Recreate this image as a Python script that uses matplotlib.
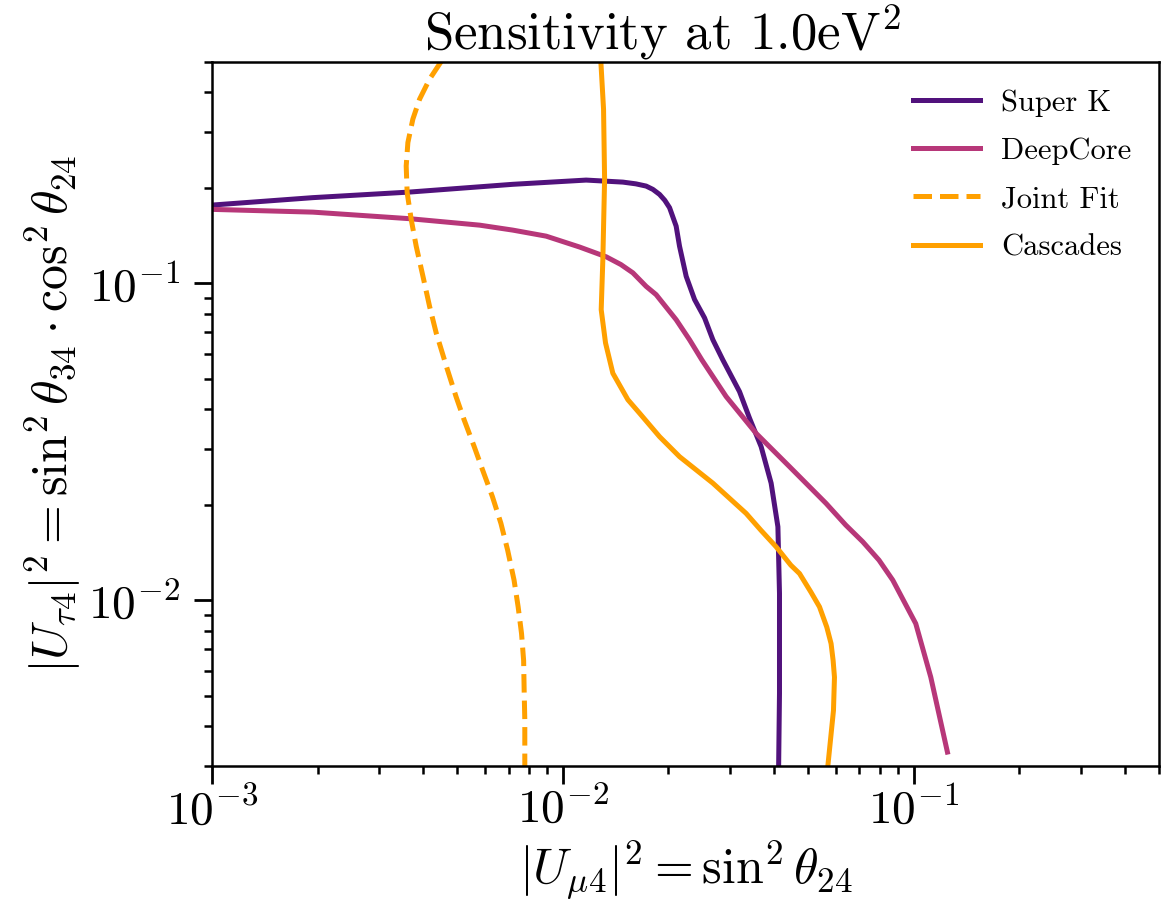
#!/usr/bin/env python3
"""Sensitivity contours at 1.0 eV^2 (|U_mu4|^2 vs |U_tau4|^2)."""

import matplotlib

matplotlib.use("Agg")
import matplotlib.pyplot as plt

# Super K
superk_x = [1.0e-3, 1.94e-3, 3.66e-3, 7.2e-3, 1.165e-2, 1.483e-2, 1.614e-2, 1.727e-2,
            1.805e-2, 1.886e-2, 1.952e-2, 2.014e-2, 2.103e-2, 2.15e-2, 2.246e-2, 2.373e-2,
            2.534e-2, 2.676e-2, 2.856e-2, 3.187e-2, 3.404e-2, 3.673e-2, 3.922e-2, 4.10e-2,
            4.143e-2, 4.143e-2, 4.12e-2]
superk_y = [0.1763, 0.1861, 0.1938, 0.205, 0.2114, 0.2083, 0.2057, 0.2024,
            0.1976, 0.1905, 0.1825, 0.173, 0.1513, 0.1308, 0.1051, 0.0888,
            0.0777, 0.0663, 0.0573, 0.0455, 0.0375, 0.0305, 0.0234, 0.01705,
            0.01052, 5.08e-3, 3.0e-3]

# DeepCore
deepcore_x = [1.0e-3, 1.94e-3, 3.66e-3, 5.79e-3, 7.2e-3, 8.96e-3, 1.116e-2, 1.329e-2,
              1.463e-2, 1.583e-2, 1.727e-2, 1.844e-2, 2.103e-2, 2.296e-2, 2.489e-2,
              2.919e-2, 3.554e-2, 4.425e-2, 5.625e-2, 6.4e-2, 7.155e-2, 7.96e-2,
              8.713e-2, 0.1013, 0.1118, 0.1247]
deepcore_y = [0.1709, 0.1675, 0.1597, 0.1524, 0.147, 0.1407, 0.130, 0.1211,
              0.1145, 0.1078, 0.0977, 0.092, 0.0767, 0.0663, 0.0573,
              0.0439, 0.0336, 0.02638, 0.0202, 0.01726, 0.01529, 0.01338,
              0.01157, 8.44e-3, 5.72e-3, 3.32e-3]

# Joint Fit
joint_x = [4.5e-3, 4.17e-3, 3.906e-3, 3.737e-3, 3.617e-3, 3.577e-3, 3.6e-3, 3.696e-3,
           3.82e-3, 3.993e-3, 4.17e-3, 4.355e-3, 4.69e-3, 4.96e-3, 5.23e-3, 5.59e-3,
           5.905e-3, 6.3e-3, 6.66e-3, 6.96e-3, 7.26e-3, 7.457e-3, 7.625e-3, 7.73e-3,
           7.757e-3, 7.79e-3, 7.79e-3, 7.79e-3]
joint_y = [0.5, 0.44, 0.3805, 0.3291, 0.2776, 0.2342, 0.193, 0.159,
           0.1308, 0.1051, 0.0845, 0.0697, 0.0533, 0.0439, 0.0371, 0.0305,
           0.02576, 0.0212, 0.01748, 0.01439, 0.01157, 9.53e-3, 7.85e-3, 6.46e-3,
           5.19e-3, 4.18e-3, 3.36e-3, 3.0e-3]

# Cascades
cascades_x = [1.283e-2, 1.306e-2, 1.315e-2, 1.30e-2, 1.286e-2, 1.323e-2, 1.388e-2, 1.532e-2,
              1.654e-2, 1.886e-2, 2.15e-2, 2.676e-2, 3.328e-2, 3.665e-2, 4.053e-2,
              4.463e-2, 4.725e-2, 5.089e-2, 5.387e-2, 5.65e-2, 5.812e-2, 5.89e-2,
              5.943e-2, 5.904e-2, 5.69e-2]
cascades_y = [0.5, 0.3537, 0.2126, 0.1188, 0.0825, 0.0648, 0.052, 0.0429,
              0.0389, 0.0328, 0.02837, 0.0234, 0.01879, 0.01664, 0.01474,
              0.0129, 0.01214, 0.01062, 9.53e-3, 8.23e-3, 7.3e-3, 6.46e-3,
              5.72e-3, 4.49e-3, 3.0e-3]

plt.rcParams["font.family"] = "serif"
plt.rcParams["font.serif"] = ["cmr10"]
plt.rcParams["mathtext.fontset"] = "cm"
plt.rcParams["axes.formatter.use_mathtext"] = True
plt.rcParams["axes.unicode_minus"] = False

fig, ax = plt.subplots(figsize=(11.71, 9.01), dpi=100)
fig.subplots_adjust(left=0.181, right=0.9898, bottom=0.1498, top=0.9317)

lw = 3.6
ax.plot(superk_x, superk_y, color="#51127c", lw=lw, label="Super K")
ax.plot(deepcore_x, deepcore_y, color="#b73779", lw=lw, label="DeepCore")
ax.plot(joint_x, joint_y, color="#ffa000", lw=lw, ls="--", label="Joint Fit")
ax.plot(cascades_x, cascades_y, color="#ffa000", lw=lw, label="Cascades")

ax.set_xscale("log")
ax.set_yscale("log")
ax.set_xlim(1e-3, 0.5)
ax.set_ylim(3e-3, 0.5)

ax.set_xlabel(r"$|U_{\mu4}|^2 = \sin^2\theta_{24}$", fontsize=36)
ax.set_ylabel(r"$|U_{\tau4}|^2 = \sin^2\theta_{34}\cdot\cos^2\theta_{24}$", fontsize=36)
ax.set_title(r"Sensitivity at 1.0eV$^2$", fontsize=38, pad=6, x=0.475)

ax.tick_params(which="major", direction="out", length=13, width=2, labelsize=34)
ax.tick_params(which="minor", direction="out", length=6, width=1.8)
ax.tick_params(axis="x", which="major", pad=2)
ax.tick_params(axis="y", which="major", pad=10)
for sp in ax.spines.values():
    sp.set_linewidth(1.8)

ax.legend(loc="upper right", frameon=False, fontsize=22, handlelength=2.2,
          handletextpad=0.7, labelspacing=0.68)

fig.savefig("out.png")
plt.close(fig)
